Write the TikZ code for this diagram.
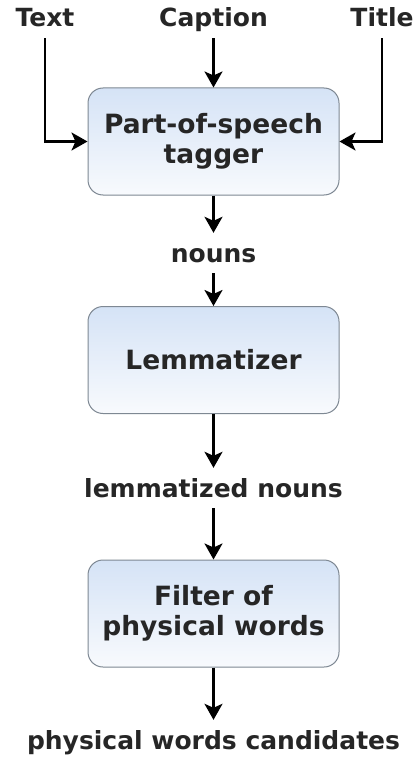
\documentclass[tikz,border=0pt]{standalone}
\usepackage{fontspec}
\setmainfont{DejaVu Sans}
\usepackage{xcolor}
\usepackage{tikz}
\usetikzlibrary{arrows.meta,
                positioning,
                shapes}
\definecolor{inkgray}{HTML}{262626}
\definecolor{boxedge}{HTML}{7E8893}
\definecolor{boxtop}{HTML}{D5E3F6}
\definecolor{boxbottom}{HTML}{F8FAFD}
\tikzset{flowarrow/.style={line width=2.4pt,draw=black,-{Stealth[length=16pt,width=18pt,inset=4pt]}}}
\tikzstyle{procbox} = [rectangle,rounded corners=15pt,draw=boxedge,line width=1pt,top color=boxtop,bottom color=boxbottom,minimum width=251pt,minimum height=107pt,align=center,text=inkgray,font=\fontsize{26.5}{30}\selectfont\bfseries]
\tikzstyle{datatext} = [anchor=base,text=inkgray,text height=24pt,text depth=6pt,inner sep=5pt,font=\fontsize{25}{29}\selectfont\bfseries]

\begin{document}
\begin{tikzpicture}[x=1pt,y=1pt]
        \useasboundingbox[fill=white] (0,0) rectangle (415,-757);

        \node[datatext] (caption) at (213.5,-27) {Caption};
        \node[datatext] (text) at (45,-27) {Text};
        \node[datatext] (title) at (382,-27) {Title};
        \node[procbox] (tagger) at (213.5,-141.5) {Part-of-speech\\tagger};
        \node[datatext] (nouns) at (213.5,-262) {nouns};
        \node[procbox] (lemma) at (213.5,-360) {Lemmatizer};
        \node[datatext] (lemnouns) at (213.5,-497) {lemmatized nouns};
        \node[procbox] (filter) at (213.5,-613.5) {Filter of\\physical words};
        \node[datatext] (cands) at (213.5,-749) {physical words candidates};
        \draw[flowarrow] (caption) -- (tagger);
        \draw[flowarrow] (text) |- (tagger);
        \draw[flowarrow] (title) |- (tagger);
        \draw[flowarrow] (tagger) -- (nouns);
        \draw[flowarrow] (nouns) -- (lemma);
        \draw[flowarrow] (lemma) -- (lemnouns);
        \draw[flowarrow] (lemnouns) -- (filter);
        \draw[flowarrow] (filter) -- (cands);
    \end{tikzpicture}
\end{document}
